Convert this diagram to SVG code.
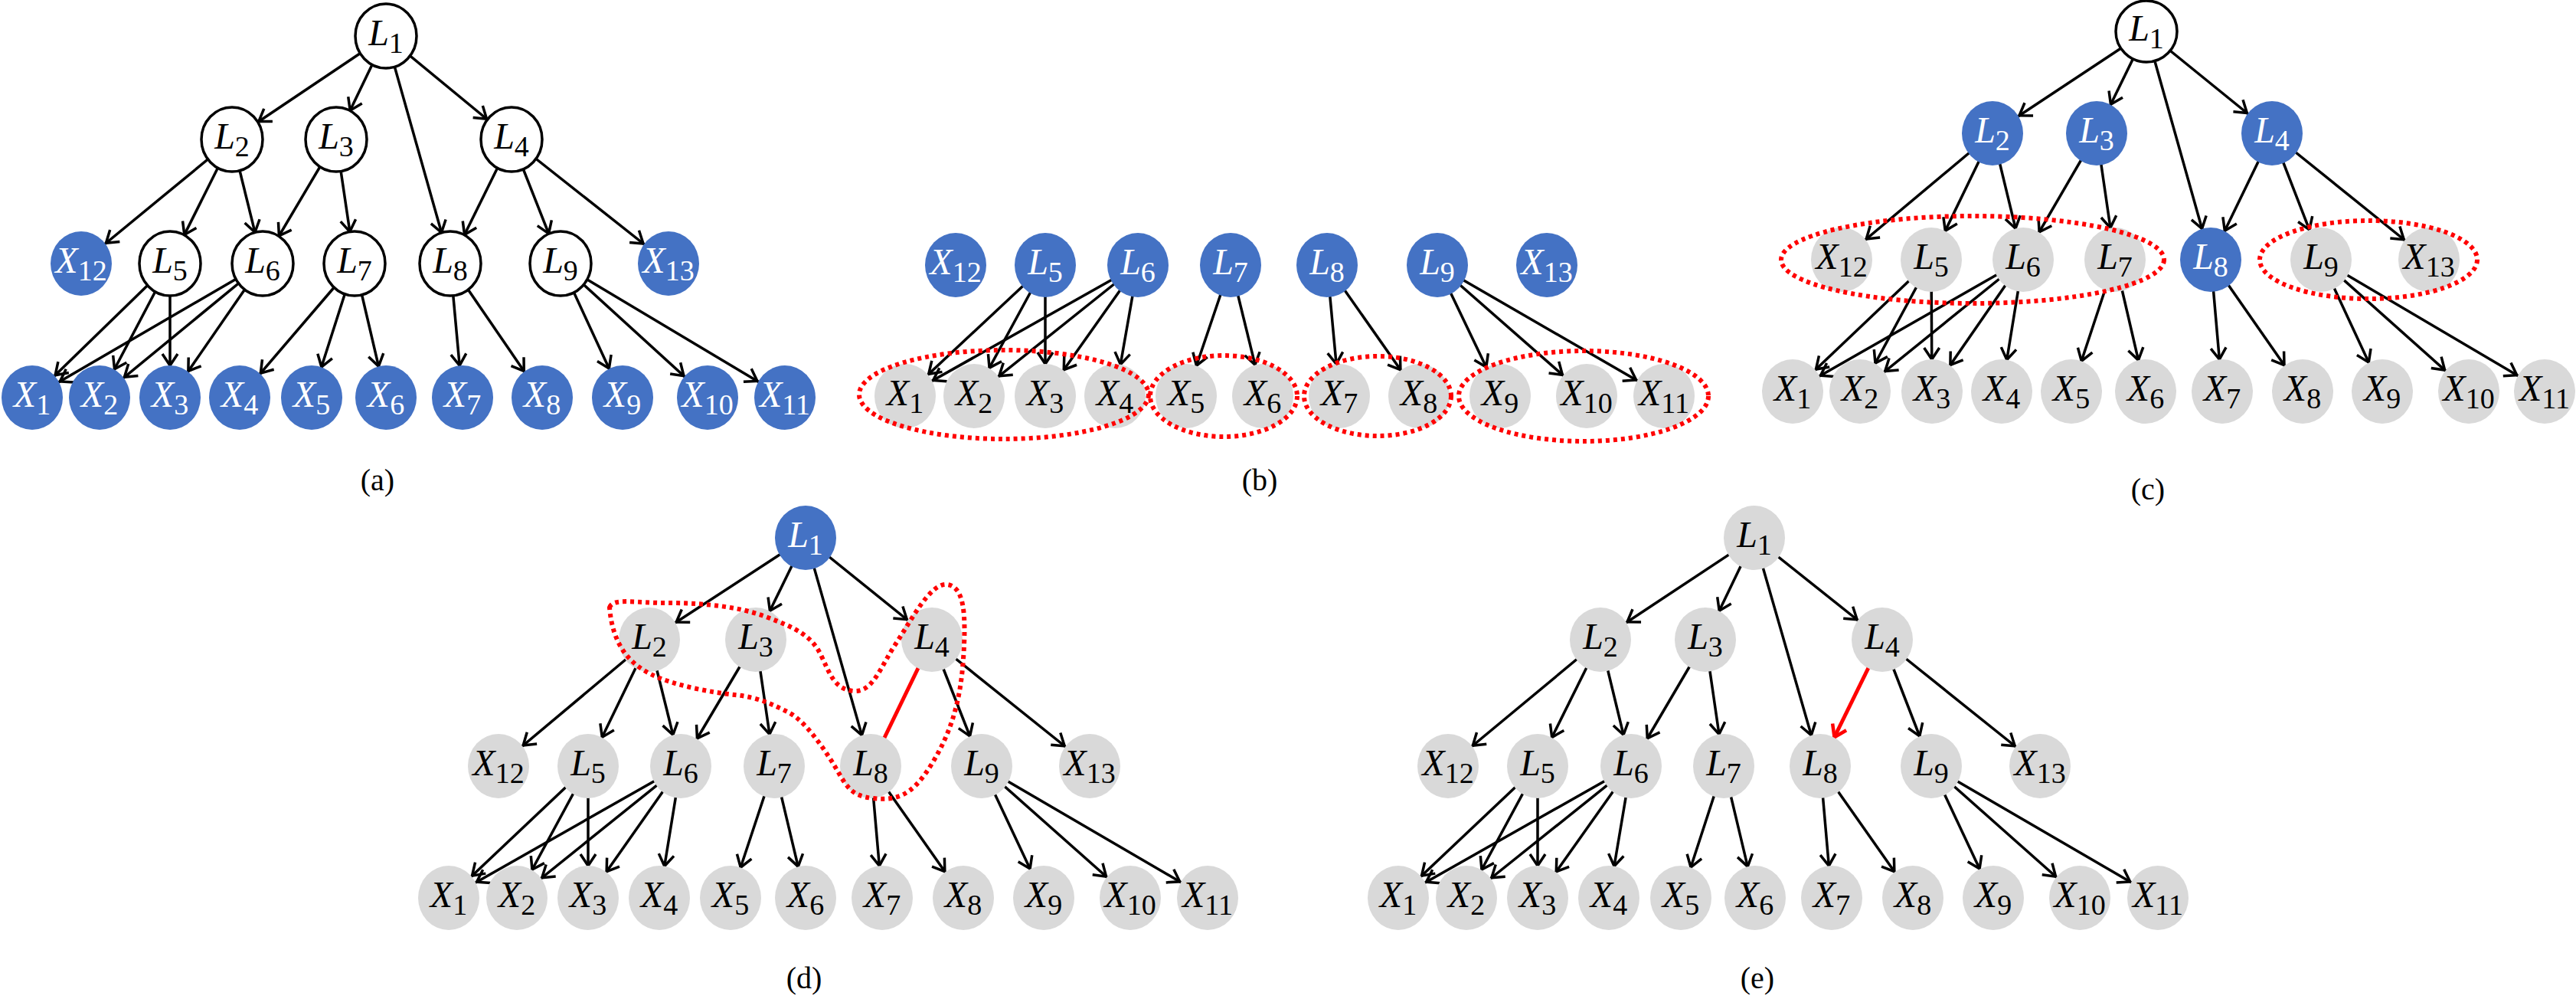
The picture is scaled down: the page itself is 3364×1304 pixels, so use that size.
<svg xmlns="http://www.w3.org/2000/svg" width="3364" height="1304" viewBox="0 0 3364 1304">
<style>
.e{stroke:#000;stroke-width:3.5;fill:none;marker-end:url(#ah)}
.w{fill:#fff;stroke:#000;stroke-width:3.5}
.b{fill:#4472C4}
.g{fill:#D9D9D9}
text{font-family:"Liberation Serif","Times New Roman",serif;text-anchor:middle}
.t{font-size:48px;font-style:italic;fill:#000}
.tw{font-size:48px;font-style:italic;fill:#fff}
.s{font-style:normal;font-size:38px}
.cap{font-size:40px;fill:#000}
.rd{fill:none;stroke:#FF0000;stroke-width:6;stroke-dasharray:5 5}
</style>
<defs>
<marker id="ah" markerUnits="userSpaceOnUse" markerWidth="80" markerHeight="30" refX="62" refY="15" orient="auto" overflow="visible"><path d="M5,5 L20,15 L5,25" fill="none" stroke="#000" stroke-width="3.5"/></marker>
<marker id="ahr" markerUnits="userSpaceOnUse" markerWidth="80" markerHeight="30" refX="62" refY="15" orient="auto" overflow="visible"><path d="M5,5 L20,15 L5,25" fill="none" stroke="#FF0000" stroke-width="4.5"/></marker>
</defs>
<g id="connectors">
<!-- a -->
<line class="e" x1="504" y1="47" x2="303" y2="182"/><line class="e" x1="504" y1="47" x2="439" y2="182"/><line class="e" x1="504" y1="47" x2="588" y2="344"/><line class="e" x1="504" y1="47" x2="668" y2="182"/>
<line class="e" x1="303" y1="182" x2="106" y2="344"/><line class="e" x1="303" y1="182" x2="222" y2="344"/><line class="e" x1="303" y1="182" x2="343" y2="344"/>
<line class="e" x1="439" y1="182" x2="343" y2="344"/><line class="e" x1="439" y1="182" x2="463" y2="344"/>
<line class="e" x1="668" y1="182" x2="588" y2="344"/><line class="e" x1="668" y1="182" x2="732" y2="344"/><line class="e" x1="668" y1="182" x2="873" y2="344"/>
<line class="e" x1="222" y1="344" x2="42" y2="519"/><line class="e" x1="222" y1="344" x2="130" y2="519"/><line class="e" x1="222" y1="344" x2="222" y2="519"/>
<line class="e" x1="343" y1="344" x2="42" y2="519"/><line class="e" x1="343" y1="344" x2="130" y2="519"/><line class="e" x1="343" y1="344" x2="222" y2="519"/>
<line class="e" x1="463" y1="344" x2="313" y2="519"/><line class="e" x1="463" y1="344" x2="407" y2="519"/><line class="e" x1="463" y1="344" x2="504" y2="519"/>
<line class="e" x1="588" y1="344" x2="604" y2="519"/><line class="e" x1="588" y1="344" x2="708" y2="519"/>
<line class="e" x1="732" y1="344" x2="813" y2="519"/><line class="e" x1="732" y1="344" x2="924" y2="519"/><line class="e" x1="732" y1="344" x2="1025" y2="519"/>
<!-- b -->
<line class="e" x1="1365" y1="346" x2="1182" y2="517"/><line class="e" x1="1365" y1="346" x2="1272" y2="517"/><line class="e" x1="1365" y1="346" x2="1365" y2="517"/>
<line class="e" x1="1486" y1="346" x2="1182" y2="517"/><line class="e" x1="1486" y1="346" x2="1272" y2="517"/><line class="e" x1="1486" y1="346" x2="1365" y2="517"/><line class="e" x1="1486" y1="346" x2="1456" y2="517"/>
<line class="e" x1="1607" y1="346" x2="1549" y2="517"/><line class="e" x1="1607" y1="346" x2="1649" y2="517"/>
<line class="e" x1="1733" y1="346" x2="1749" y2="517"/><line class="e" x1="1733" y1="346" x2="1853" y2="517"/>
<line class="e" x1="1877" y1="346" x2="1959" y2="517"/><line class="e" x1="1877" y1="346" x2="2072" y2="517"/><line class="e" x1="1877" y1="346" x2="2173" y2="517"/>
<!-- c -->
<line class="e" x1="2803" y1="41" x2="2602" y2="174"/><line class="e" x1="2803" y1="41" x2="2738" y2="174"/><line class="e" x1="2803" y1="41" x2="2887" y2="339"/><line class="e" x1="2803" y1="41" x2="2967" y2="174"/>
<line class="e" x1="2602" y1="174" x2="2405" y2="339"/><line class="e" x1="2602" y1="174" x2="2522" y2="339"/><line class="e" x1="2602" y1="174" x2="2642" y2="339"/>
<line class="e" x1="2738" y1="174" x2="2642" y2="339"/><line class="e" x1="2738" y1="174" x2="2762" y2="339"/>
<line class="e" x1="2967" y1="174" x2="2887" y2="339"/><line class="e" x1="2967" y1="174" x2="3031" y2="339"/><line class="e" x1="2967" y1="174" x2="3172" y2="339"/>
<line class="e" x1="2522" y1="339" x2="2341" y2="511"/><line class="e" x1="2522" y1="339" x2="2429" y2="511"/><line class="e" x1="2522" y1="339" x2="2523" y2="511"/>
<line class="e" x1="2642" y1="339" x2="2341" y2="511"/><line class="e" x1="2642" y1="339" x2="2429" y2="511"/><line class="e" x1="2642" y1="339" x2="2523" y2="511"/><line class="e" x1="2642" y1="339" x2="2614" y2="511"/>
<line class="e" x1="2762" y1="339" x2="2705" y2="511"/><line class="e" x1="2762" y1="339" x2="2802" y2="511"/>
<line class="e" x1="2887" y1="339" x2="2902" y2="511"/><line class="e" x1="2887" y1="339" x2="3007" y2="511"/>
<line class="e" x1="3031" y1="339" x2="3111" y2="511"/><line class="e" x1="3031" y1="339" x2="3224" y2="511"/><line class="e" x1="3031" y1="339" x2="3323" y2="511"/>
<!-- d -->
<line class="e" x1="1052" y1="702" x2="848" y2="835"/><line class="e" x1="1052" y1="702" x2="987" y2="835"/><line class="e" x1="1052" y1="702" x2="1137" y2="1000"/><line class="e" x1="1052" y1="702" x2="1217" y2="835"/>
<line class="e" x1="848" y1="835" x2="651" y2="1000"/><line class="e" x1="848" y1="835" x2="768" y2="1000"/><line class="e" x1="848" y1="835" x2="889" y2="1000"/>
<line class="e" x1="987" y1="835" x2="889" y2="1000"/><line class="e" x1="987" y1="835" x2="1011" y2="1000"/>
<line x1="1217" y1="835" x2="1137" y2="1000" stroke="#FF0000" stroke-width="5"/><line class="e" x1="1217" y1="835" x2="1282" y2="1000"/><line class="e" x1="1217" y1="835" x2="1423" y2="1000"/>
<line class="e" x1="768" y1="1000" x2="586" y2="1172"/><line class="e" x1="768" y1="1000" x2="675" y2="1172"/><line class="e" x1="768" y1="1000" x2="768" y2="1172"/>
<line class="e" x1="889" y1="1000" x2="586" y2="1172"/><line class="e" x1="889" y1="1000" x2="675" y2="1172"/><line class="e" x1="889" y1="1000" x2="768" y2="1172"/><line class="e" x1="889" y1="1000" x2="861" y2="1172"/>
<line class="e" x1="1011" y1="1000" x2="954" y2="1172"/><line class="e" x1="1011" y1="1000" x2="1052" y2="1172"/>
<line class="e" x1="1137" y1="1000" x2="1152" y2="1172"/><line class="e" x1="1137" y1="1000" x2="1258" y2="1172"/>
<line class="e" x1="1282" y1="1000" x2="1363" y2="1172"/><line class="e" x1="1282" y1="1000" x2="1476" y2="1172"/><line class="e" x1="1282" y1="1000" x2="1577" y2="1172"/>
<!-- e -->
<line class="e" x1="2291" y1="702" x2="2090" y2="835"/><line class="e" x1="2291" y1="702" x2="2227" y2="835"/><line class="e" x1="2291" y1="702" x2="2377" y2="1000"/><line class="e" x1="2291" y1="702" x2="2458" y2="835"/>
<line class="e" x1="2090" y1="835" x2="1891" y2="1000"/><line class="e" x1="2090" y1="835" x2="2008" y2="1000"/><line class="e" x1="2090" y1="835" x2="2130" y2="1000"/>
<line class="e" x1="2227" y1="835" x2="2130" y2="1000"/><line class="e" x1="2227" y1="835" x2="2251" y2="1000"/>
<line x1="2458" y1="835" x2="2377" y2="1000" stroke="#FF0000" stroke-width="5" marker-end="url(#ahr)"/><line class="e" x1="2458" y1="835" x2="2522" y2="1000"/><line class="e" x1="2458" y1="835" x2="2664" y2="1000"/>
<line class="e" x1="2008" y1="1000" x2="1826" y2="1172"/><line class="e" x1="2008" y1="1000" x2="1915" y2="1172"/><line class="e" x1="2008" y1="1000" x2="2008" y2="1172"/>
<line class="e" x1="2130" y1="1000" x2="1826" y2="1172"/><line class="e" x1="2130" y1="1000" x2="1915" y2="1172"/><line class="e" x1="2130" y1="1000" x2="2008" y2="1172"/><line class="e" x1="2130" y1="1000" x2="2101" y2="1172"/>
<line class="e" x1="2251" y1="1000" x2="2195" y2="1172"/><line class="e" x1="2251" y1="1000" x2="2292" y2="1172"/>
<line class="e" x1="2377" y1="1000" x2="2392" y2="1172"/><line class="e" x1="2377" y1="1000" x2="2498" y2="1172"/>
<line class="e" x1="2522" y1="1000" x2="2603" y2="1172"/><line class="e" x1="2522" y1="1000" x2="2716" y2="1172"/><line class="e" x1="2522" y1="1000" x2="2818" y2="1172"/>
</g>
<!-- panel a nodes -->
<g id="a-L1"><ellipse class="w" cx="504" cy="47" rx="40" ry="42"/><text class="t" x="504" y="59">L<tspan class="s" dy="10">1</tspan></text></g>
<g id="a-L2"><ellipse class="w" cx="303" cy="182" rx="40" ry="42"/><text class="t" x="303" y="194">L<tspan class="s" dy="10">2</tspan></text></g>
<g id="a-L3"><ellipse class="w" cx="439" cy="182" rx="40" ry="42"/><text class="t" x="439" y="194">L<tspan class="s" dy="10">3</tspan></text></g>
<g id="a-L4"><ellipse class="w" cx="668" cy="182" rx="40" ry="42"/><text class="t" x="668" y="194">L<tspan class="s" dy="10">4</tspan></text></g>
<g id="a-X12"><ellipse class="b" cx="106" cy="344" rx="40" ry="42"/><text class="tw" x="106" y="356">X<tspan class="s" dy="10">12</tspan></text></g>
<g id="a-L5"><ellipse class="w" cx="222" cy="344" rx="40" ry="42"/><text class="t" x="222" y="356">L<tspan class="s" dy="10">5</tspan></text></g>
<g id="a-L6"><ellipse class="w" cx="343" cy="344" rx="40" ry="42"/><text class="t" x="343" y="356">L<tspan class="s" dy="10">6</tspan></text></g>
<g id="a-L7"><ellipse class="w" cx="463" cy="344" rx="40" ry="42"/><text class="t" x="463" y="356">L<tspan class="s" dy="10">7</tspan></text></g>
<g id="a-L8"><ellipse class="w" cx="588" cy="344" rx="40" ry="42"/><text class="t" x="588" y="356">L<tspan class="s" dy="10">8</tspan></text></g>
<g id="a-L9"><ellipse class="w" cx="732" cy="344" rx="40" ry="42"/><text class="t" x="732" y="356">L<tspan class="s" dy="10">9</tspan></text></g>
<g id="a-X13"><ellipse class="b" cx="873" cy="344" rx="40" ry="42"/><text class="tw" x="873" y="356">X<tspan class="s" dy="10">13</tspan></text></g>
<g id="a-X1"><ellipse class="b" cx="42" cy="519" rx="40" ry="42"/><text class="tw" x="42" y="531">X<tspan class="s" dy="10">1</tspan></text></g>
<g id="a-X2"><ellipse class="b" cx="130" cy="519" rx="40" ry="42"/><text class="tw" x="130" y="531">X<tspan class="s" dy="10">2</tspan></text></g>
<g id="a-X3"><ellipse class="b" cx="222" cy="519" rx="40" ry="42"/><text class="tw" x="222" y="531">X<tspan class="s" dy="10">3</tspan></text></g>
<g id="a-X4"><ellipse class="b" cx="313" cy="519" rx="40" ry="42"/><text class="tw" x="313" y="531">X<tspan class="s" dy="10">4</tspan></text></g>
<g id="a-X5"><ellipse class="b" cx="407" cy="519" rx="40" ry="42"/><text class="tw" x="407" y="531">X<tspan class="s" dy="10">5</tspan></text></g>
<g id="a-X6"><ellipse class="b" cx="504" cy="519" rx="40" ry="42"/><text class="tw" x="504" y="531">X<tspan class="s" dy="10">6</tspan></text></g>
<g id="a-X7"><ellipse class="b" cx="604" cy="519" rx="40" ry="42"/><text class="tw" x="604" y="531">X<tspan class="s" dy="10">7</tspan></text></g>
<g id="a-X8"><ellipse class="b" cx="708" cy="519" rx="40" ry="42"/><text class="tw" x="708" y="531">X<tspan class="s" dy="10">8</tspan></text></g>
<g id="a-X9"><ellipse class="b" cx="813" cy="519" rx="40" ry="42"/><text class="tw" x="813" y="531">X<tspan class="s" dy="10">9</tspan></text></g>
<g id="a-X10"><ellipse class="b" cx="924" cy="519" rx="40" ry="42"/><text class="tw" x="924" y="531">X<tspan class="s" dy="10">10</tspan></text></g>
<g id="a-X11"><ellipse class="b" cx="1025" cy="519" rx="40" ry="42"/><text class="tw" x="1025" y="531">X<tspan class="s" dy="10">11</tspan></text></g>
<text class="cap" x="493" y="640">(a)</text>
<!-- panel b nodes -->
<g id="b-X12"><ellipse class="b" cx="1248" cy="346" rx="40" ry="42"/><text class="tw" x="1248" y="358">X<tspan class="s" dy="10">12</tspan></text></g>
<g id="b-L5"><ellipse class="b" cx="1365" cy="346" rx="40" ry="42"/><text class="tw" x="1365" y="358">L<tspan class="s" dy="10">5</tspan></text></g>
<g id="b-L6"><ellipse class="b" cx="1486" cy="346" rx="40" ry="42"/><text class="tw" x="1486" y="358">L<tspan class="s" dy="10">6</tspan></text></g>
<g id="b-L7"><ellipse class="b" cx="1607" cy="346" rx="40" ry="42"/><text class="tw" x="1607" y="358">L<tspan class="s" dy="10">7</tspan></text></g>
<g id="b-L8"><ellipse class="b" cx="1733" cy="346" rx="40" ry="42"/><text class="tw" x="1733" y="358">L<tspan class="s" dy="10">8</tspan></text></g>
<g id="b-L9"><ellipse class="b" cx="1877" cy="346" rx="40" ry="42"/><text class="tw" x="1877" y="358">L<tspan class="s" dy="10">9</tspan></text></g>
<g id="b-X13"><ellipse class="b" cx="2020" cy="346" rx="40" ry="42"/><text class="tw" x="2020" y="358">X<tspan class="s" dy="10">13</tspan></text></g>
<g id="b-X1"><ellipse class="g" cx="1182" cy="517" rx="40" ry="42"/><text class="t" x="1182" y="529">X<tspan class="s" dy="10">1</tspan></text></g>
<g id="b-X2"><ellipse class="g" cx="1272" cy="517" rx="40" ry="42"/><text class="t" x="1272" y="529">X<tspan class="s" dy="10">2</tspan></text></g>
<g id="b-X3"><ellipse class="g" cx="1365" cy="517" rx="40" ry="42"/><text class="t" x="1365" y="529">X<tspan class="s" dy="10">3</tspan></text></g>
<g id="b-X4"><ellipse class="g" cx="1456" cy="517" rx="40" ry="42"/><text class="t" x="1456" y="529">X<tspan class="s" dy="10">4</tspan></text></g>
<g id="b-X5"><ellipse class="g" cx="1549" cy="517" rx="40" ry="42"/><text class="t" x="1549" y="529">X<tspan class="s" dy="10">5</tspan></text></g>
<g id="b-X6"><ellipse class="g" cx="1649" cy="517" rx="40" ry="42"/><text class="t" x="1649" y="529">X<tspan class="s" dy="10">6</tspan></text></g>
<g id="b-X7"><ellipse class="g" cx="1749" cy="517" rx="40" ry="42"/><text class="t" x="1749" y="529">X<tspan class="s" dy="10">7</tspan></text></g>
<g id="b-X8"><ellipse class="g" cx="1853" cy="517" rx="40" ry="42"/><text class="t" x="1853" y="529">X<tspan class="s" dy="10">8</tspan></text></g>
<g id="b-X9"><ellipse class="g" cx="1959" cy="517" rx="40" ry="42"/><text class="t" x="1959" y="529">X<tspan class="s" dy="10">9</tspan></text></g>
<g id="b-X10"><ellipse class="g" cx="2072" cy="517" rx="40" ry="42"/><text class="t" x="2072" y="529">X<tspan class="s" dy="10">10</tspan></text></g>
<g id="b-X11"><ellipse class="g" cx="2173" cy="517" rx="40" ry="42"/><text class="t" x="2173" y="529">X<tspan class="s" dy="10">11</tspan></text></g>
<ellipse class="rd" cx="1311" cy="515" rx="189" ry="58"/>
<ellipse class="rd" cx="1598" cy="517" rx="96" ry="53"/>
<ellipse class="rd" cx="1799" cy="517" rx="96" ry="52"/>
<ellipse class="rd" cx="2068" cy="517" rx="163" ry="59"/>
<text class="cap" x="1645" y="640">(b)</text>
<!-- panel c nodes -->
<g id="c-L1"><ellipse class="w" cx="2803" cy="41" rx="40" ry="40"/><text class="t" x="2803" y="53">L<tspan class="s" dy="10">1</tspan></text></g>
<g id="c-L2"><ellipse class="b" cx="2602" cy="174" rx="40" ry="42"/><text class="tw" x="2602" y="186">L<tspan class="s" dy="10">2</tspan></text></g>
<g id="c-L3"><ellipse class="b" cx="2738" cy="174" rx="40" ry="42"/><text class="tw" x="2738" y="186">L<tspan class="s" dy="10">3</tspan></text></g>
<g id="c-L4"><ellipse class="b" cx="2967" cy="174" rx="40" ry="42"/><text class="tw" x="2967" y="186">L<tspan class="s" dy="10">4</tspan></text></g>
<g id="c-X12"><ellipse class="g" cx="2405" cy="339" rx="40" ry="42"/><text class="t" x="2405" y="351">X<tspan class="s" dy="10">12</tspan></text></g>
<g id="c-L5"><ellipse class="g" cx="2522" cy="339" rx="40" ry="42"/><text class="t" x="2522" y="351">L<tspan class="s" dy="10">5</tspan></text></g>
<g id="c-L6"><ellipse class="g" cx="2642" cy="339" rx="40" ry="42"/><text class="t" x="2642" y="351">L<tspan class="s" dy="10">6</tspan></text></g>
<g id="c-L7"><ellipse class="g" cx="2762" cy="339" rx="40" ry="42"/><text class="t" x="2762" y="351">L<tspan class="s" dy="10">7</tspan></text></g>
<g id="c-L8"><ellipse class="b" cx="2887" cy="339" rx="40" ry="42"/><text class="tw" x="2887" y="351">L<tspan class="s" dy="10">8</tspan></text></g>
<g id="c-L9"><ellipse class="g" cx="3031" cy="339" rx="40" ry="42"/><text class="t" x="3031" y="351">L<tspan class="s" dy="10">9</tspan></text></g>
<g id="c-X13"><ellipse class="g" cx="3172" cy="339" rx="40" ry="42"/><text class="t" x="3172" y="351">X<tspan class="s" dy="10">13</tspan></text></g>
<g id="c-X1"><ellipse class="g" cx="2341" cy="511" rx="40" ry="42"/><text class="t" x="2341" y="523">X<tspan class="s" dy="10">1</tspan></text></g>
<g id="c-X2"><ellipse class="g" cx="2429" cy="511" rx="40" ry="42"/><text class="t" x="2429" y="523">X<tspan class="s" dy="10">2</tspan></text></g>
<g id="c-X3"><ellipse class="g" cx="2523" cy="511" rx="40" ry="42"/><text class="t" x="2523" y="523">X<tspan class="s" dy="10">3</tspan></text></g>
<g id="c-X4"><ellipse class="g" cx="2614" cy="511" rx="40" ry="42"/><text class="t" x="2614" y="523">X<tspan class="s" dy="10">4</tspan></text></g>
<g id="c-X5"><ellipse class="g" cx="2705" cy="511" rx="40" ry="42"/><text class="t" x="2705" y="523">X<tspan class="s" dy="10">5</tspan></text></g>
<g id="c-X6"><ellipse class="g" cx="2802" cy="511" rx="40" ry="42"/><text class="t" x="2802" y="523">X<tspan class="s" dy="10">6</tspan></text></g>
<g id="c-X7"><ellipse class="g" cx="2902" cy="511" rx="40" ry="42"/><text class="t" x="2902" y="523">X<tspan class="s" dy="10">7</tspan></text></g>
<g id="c-X8"><ellipse class="g" cx="3007" cy="511" rx="40" ry="42"/><text class="t" x="3007" y="523">X<tspan class="s" dy="10">8</tspan></text></g>
<g id="c-X9"><ellipse class="g" cx="3111" cy="511" rx="40" ry="42"/><text class="t" x="3111" y="523">X<tspan class="s" dy="10">9</tspan></text></g>
<g id="c-X10"><ellipse class="g" cx="3224" cy="511" rx="40" ry="42"/><text class="t" x="3224" y="523">X<tspan class="s" dy="10">10</tspan></text></g>
<g id="c-X11"><ellipse class="g" cx="3323" cy="511" rx="40" ry="42"/><text class="t" x="3323" y="523">X<tspan class="s" dy="10">11</tspan></text></g>
<ellipse class="rd" cx="2576" cy="339" rx="250" ry="57"/>
<ellipse class="rd" cx="3093" cy="339" rx="142" ry="51"/>
<text class="cap" x="2805" y="652">(c)</text>
<!-- panel d nodes -->
<g id="d-L1"><ellipse class="b" cx="1052" cy="702" rx="40" ry="42"/><text class="tw" x="1052" y="714">L<tspan class="s" dy="10">1</tspan></text></g>
<g id="d-L2"><ellipse class="g" cx="848" cy="835" rx="40" ry="42"/><text class="t" x="848" y="847">L<tspan class="s" dy="10">2</tspan></text></g>
<g id="d-L3"><ellipse class="g" cx="987" cy="835" rx="40" ry="42"/><text class="t" x="987" y="847">L<tspan class="s" dy="10">3</tspan></text></g>
<g id="d-L4"><ellipse class="g" cx="1217" cy="835" rx="40" ry="42"/><text class="t" x="1217" y="847">L<tspan class="s" dy="10">4</tspan></text></g>
<g id="d-X12"><ellipse class="g" cx="651" cy="1000" rx="40" ry="42"/><text class="t" x="651" y="1012">X<tspan class="s" dy="10">12</tspan></text></g>
<g id="d-L5"><ellipse class="g" cx="768" cy="1000" rx="40" ry="42"/><text class="t" x="768" y="1012">L<tspan class="s" dy="10">5</tspan></text></g>
<g id="d-L6"><ellipse class="g" cx="889" cy="1000" rx="40" ry="42"/><text class="t" x="889" y="1012">L<tspan class="s" dy="10">6</tspan></text></g>
<g id="d-L7"><ellipse class="g" cx="1011" cy="1000" rx="40" ry="42"/><text class="t" x="1011" y="1012">L<tspan class="s" dy="10">7</tspan></text></g>
<g id="d-L8"><ellipse class="g" cx="1137" cy="1000" rx="40" ry="42"/><text class="t" x="1137" y="1012">L<tspan class="s" dy="10">8</tspan></text></g>
<g id="d-L9"><ellipse class="g" cx="1282" cy="1000" rx="40" ry="42"/><text class="t" x="1282" y="1012">L<tspan class="s" dy="10">9</tspan></text></g>
<g id="d-X13"><ellipse class="g" cx="1423" cy="1000" rx="40" ry="42"/><text class="t" x="1423" y="1012">X<tspan class="s" dy="10">13</tspan></text></g>
<g id="d-X1"><ellipse class="g" cx="586" cy="1172" rx="40" ry="42"/><text class="t" x="586" y="1184">X<tspan class="s" dy="10">1</tspan></text></g>
<g id="d-X2"><ellipse class="g" cx="675" cy="1172" rx="40" ry="42"/><text class="t" x="675" y="1184">X<tspan class="s" dy="10">2</tspan></text></g>
<g id="d-X3"><ellipse class="g" cx="768" cy="1172" rx="40" ry="42"/><text class="t" x="768" y="1184">X<tspan class="s" dy="10">3</tspan></text></g>
<g id="d-X4"><ellipse class="g" cx="861" cy="1172" rx="40" ry="42"/><text class="t" x="861" y="1184">X<tspan class="s" dy="10">4</tspan></text></g>
<g id="d-X5"><ellipse class="g" cx="954" cy="1172" rx="40" ry="42"/><text class="t" x="954" y="1184">X<tspan class="s" dy="10">5</tspan></text></g>
<g id="d-X6"><ellipse class="g" cx="1052" cy="1172" rx="40" ry="42"/><text class="t" x="1052" y="1184">X<tspan class="s" dy="10">6</tspan></text></g>
<g id="d-X7"><ellipse class="g" cx="1152" cy="1172" rx="40" ry="42"/><text class="t" x="1152" y="1184">X<tspan class="s" dy="10">7</tspan></text></g>
<g id="d-X8"><ellipse class="g" cx="1258" cy="1172" rx="40" ry="42"/><text class="t" x="1258" y="1184">X<tspan class="s" dy="10">8</tspan></text></g>
<g id="d-X9"><ellipse class="g" cx="1363" cy="1172" rx="40" ry="42"/><text class="t" x="1363" y="1184">X<tspan class="s" dy="10">9</tspan></text></g>
<g id="d-X10"><ellipse class="g" cx="1476" cy="1172" rx="40" ry="42"/><text class="t" x="1476" y="1184">X<tspan class="s" dy="10">10</tspan></text></g>
<g id="d-X11"><ellipse class="g" cx="1577" cy="1172" rx="40" ry="42"/><text class="t" x="1577" y="1184">X<tspan class="s" dy="10">11</tspan></text></g>
<path class="rd" d="M796,793 C800,780 830,787 870,787 S960,790 1000,805 S1060,830 1072,855 S1090,900 1115,902 S1150,870 1170,840 S1215,760 1237,763 S1262,800 1258,860 S1240,960 1215,1000 S1170,1045 1140,1042 S1105,1025 1090,1000 S1050,940 1030,930 S990,910 960,907 S880,895 850,880 S800,840 796,793 Z"/>
<text class="cap" x="1050" y="1290">(d)</text>
<!-- panel e nodes -->
<g id="e-L1"><ellipse class="g" cx="2291" cy="702" rx="40" ry="42"/><text class="t" x="2291" y="714">L<tspan class="s" dy="10">1</tspan></text></g>
<g id="e-L2"><ellipse class="g" cx="2090" cy="835" rx="40" ry="42"/><text class="t" x="2090" y="847">L<tspan class="s" dy="10">2</tspan></text></g>
<g id="e-L3"><ellipse class="g" cx="2227" cy="835" rx="40" ry="42"/><text class="t" x="2227" y="847">L<tspan class="s" dy="10">3</tspan></text></g>
<g id="e-L4"><ellipse class="g" cx="2458" cy="835" rx="40" ry="42"/><text class="t" x="2458" y="847">L<tspan class="s" dy="10">4</tspan></text></g>
<g id="e-X12"><ellipse class="g" cx="1891" cy="1000" rx="40" ry="42"/><text class="t" x="1891" y="1012">X<tspan class="s" dy="10">12</tspan></text></g>
<g id="e-L5"><ellipse class="g" cx="2008" cy="1000" rx="40" ry="42"/><text class="t" x="2008" y="1012">L<tspan class="s" dy="10">5</tspan></text></g>
<g id="e-L6"><ellipse class="g" cx="2130" cy="1000" rx="40" ry="42"/><text class="t" x="2130" y="1012">L<tspan class="s" dy="10">6</tspan></text></g>
<g id="e-L7"><ellipse class="g" cx="2251" cy="1000" rx="40" ry="42"/><text class="t" x="2251" y="1012">L<tspan class="s" dy="10">7</tspan></text></g>
<g id="e-L8"><ellipse class="g" cx="2377" cy="1000" rx="40" ry="42"/><text class="t" x="2377" y="1012">L<tspan class="s" dy="10">8</tspan></text></g>
<g id="e-L9"><ellipse class="g" cx="2522" cy="1000" rx="40" ry="42"/><text class="t" x="2522" y="1012">L<tspan class="s" dy="10">9</tspan></text></g>
<g id="e-X13"><ellipse class="g" cx="2664" cy="1000" rx="40" ry="42"/><text class="t" x="2664" y="1012">X<tspan class="s" dy="10">13</tspan></text></g>
<g id="e-X1"><ellipse class="g" cx="1826" cy="1172" rx="40" ry="42"/><text class="t" x="1826" y="1184">X<tspan class="s" dy="10">1</tspan></text></g>
<g id="e-X2"><ellipse class="g" cx="1915" cy="1172" rx="40" ry="42"/><text class="t" x="1915" y="1184">X<tspan class="s" dy="10">2</tspan></text></g>
<g id="e-X3"><ellipse class="g" cx="2008" cy="1172" rx="40" ry="42"/><text class="t" x="2008" y="1184">X<tspan class="s" dy="10">3</tspan></text></g>
<g id="e-X4"><ellipse class="g" cx="2101" cy="1172" rx="40" ry="42"/><text class="t" x="2101" y="1184">X<tspan class="s" dy="10">4</tspan></text></g>
<g id="e-X5"><ellipse class="g" cx="2195" cy="1172" rx="40" ry="42"/><text class="t" x="2195" y="1184">X<tspan class="s" dy="10">5</tspan></text></g>
<g id="e-X6"><ellipse class="g" cx="2292" cy="1172" rx="40" ry="42"/><text class="t" x="2292" y="1184">X<tspan class="s" dy="10">6</tspan></text></g>
<g id="e-X7"><ellipse class="g" cx="2392" cy="1172" rx="40" ry="42"/><text class="t" x="2392" y="1184">X<tspan class="s" dy="10">7</tspan></text></g>
<g id="e-X8"><ellipse class="g" cx="2498" cy="1172" rx="40" ry="42"/><text class="t" x="2498" y="1184">X<tspan class="s" dy="10">8</tspan></text></g>
<g id="e-X9"><ellipse class="g" cx="2603" cy="1172" rx="40" ry="42"/><text class="t" x="2603" y="1184">X<tspan class="s" dy="10">9</tspan></text></g>
<g id="e-X10"><ellipse class="g" cx="2716" cy="1172" rx="40" ry="42"/><text class="t" x="2716" y="1184">X<tspan class="s" dy="10">10</tspan></text></g>
<g id="e-X11"><ellipse class="g" cx="2818" cy="1172" rx="40" ry="42"/><text class="t" x="2818" y="1184">X<tspan class="s" dy="10">11</tspan></text></g>
<text class="cap" x="2295" y="1290">(e)</text>
</svg>
